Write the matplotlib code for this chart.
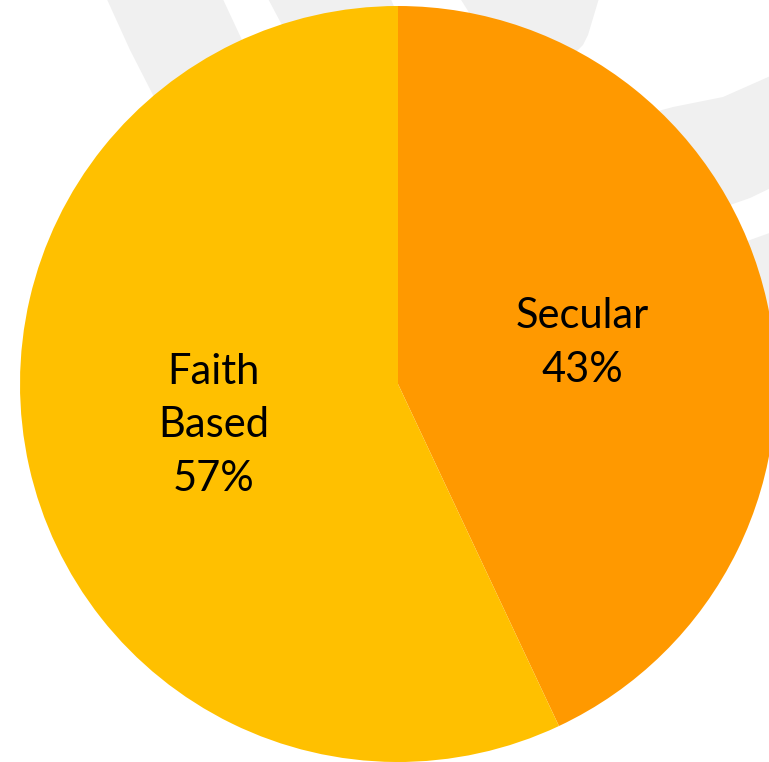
import matplotlib
matplotlib.use("Agg")
import matplotlib.pyplot as plt
from matplotlib.patches import Polygon

plt.rcParams['font.family'] = ['Lato', 'DejaVu Sans']

# -------------- data ------------------------------------------------------
categories = ['Secular', 'Faith Based']
shares = [43, 57]           # percent
colors = ['#FF9900', '#FFC000']

W, H = 769, 762

fig = plt.figure(figsize=(W / 100, H / 100), dpi=100)
ax = fig.add_axes([0, 0, 1, 1])

# -------------- faint watermark swooshes in the background ----------------
# outlines given in image pixels (y measured from the top)
swooshes = [
    [(105, -5), (130, 50), (153, 95), (175, 140), (260, 250), (320, 200), (242, 40), (221, -5)],
    [(266, -5), (282, 25), (330, 150), (420, 150), (400, 20), (389, -5)],
    [(458, -5), (600, -5), (588, 35), (583, 45), (576, 52), (560, 80), (480, 30)],
    [(640, 116), (673, 107), (723, 97), (775, 74), (775, 186), (750, 198),
     (730, 205), (700, 215), (640, 150)],
    [(720, 250), (750, 240), (775, 231), (775, 330), (740, 330)],
]
for pts in swooshes:
    ax.add_patch(Polygon([(x, H - y) for x, y in pts], closed=True,
                         facecolor='#F0F0F0', edgecolor='none', zorder=0))

# -------------- pie -------------------------------------------------------
# wrap every word onto its own line, like the original slide
labels = [c.replace(' ', '\n') + f'\n{s}%' for c, s in zip(categories, shares)]
wedges, texts = ax.pie(shares, labels=labels, colors=colors,
                       startangle=90, counterclock=False,
                       center=(398, H - 384), radius=378,
                       labeldistance=0.5, frame=True,
                       wedgeprops=dict(linewidth=0),
                       textprops=dict(fontsize=30, color='black'))
for t in texts:
    t.set_horizontalalignment('center')
    t.set_multialignment('center')
    t.set_linespacing(1.5)
    t.set_zorder(5)
for w in wedges:
    w.set_zorder(2)

ax.set_xlim(0, W)
ax.set_ylim(0, H)
ax.set_aspect('auto')
ax.axis('off')

fig.savefig('out.png', dpi=100)
